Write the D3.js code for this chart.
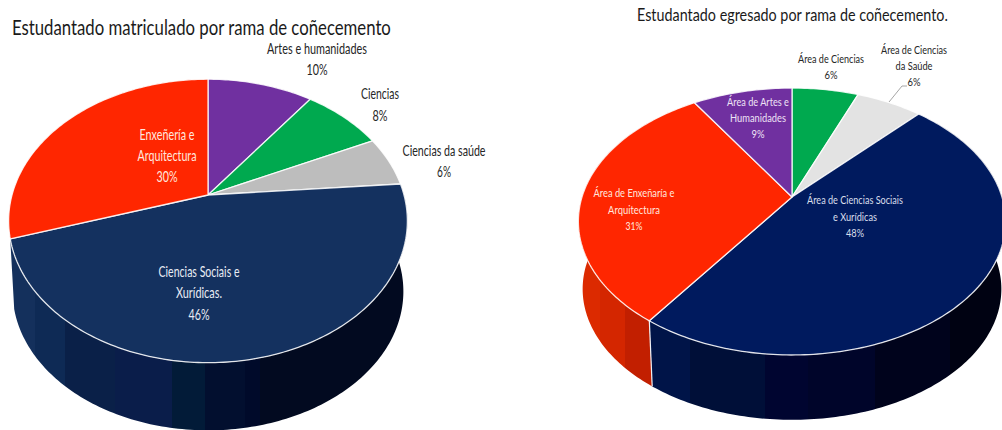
<!DOCTYPE html>
<html><head><meta charset="utf-8">
<script src="https://cdn.jsdelivr.net/npm/d3@7/dist/d3.min.js"></script>
<style>html,body{margin:0;padding:0;background:#fff;overflow:hidden}svg{display:block}text{font-family:Lato,"Open Sans",sans-serif}</style>
</head><body>
<script>
// ---------- data ----------
const leftTitle = "Estudantado matriculado por rama de coñecemento";
const leftCategories = [["Artes e humanidades"],["Ciencias"],["Ciencias da saúde"],["Ciencias Sociais e","Xurídicas."],["Enxeñería e","Arquitectura"]];
const leftValues = [10.2,7.8,5.7,46.4,29.9];
const rightTitle = "Estudantado egresado por rama de coñecemento.";
const rightCategories = [["Área de Ciencias"],["Área de Ciencias","da Saúde"],["Área de Ciencias Sociais","e Xurídicas"],["Área de Enxeñaría e","Arquitectura"],["Área de Artes e","Humanidades"]];
const rightValues = [6,6,47.8,31.2,9];

// ---------- styling and layout ----------
const leftColors = ["#7030a0","#00a94f","#bdbdbd","#14315f","#ff2600"];
const rightColors = ["#00a94f","#e3e3e3","#001a5e","#ff2600","#7030a0"];
const leftInk = ["#262626","#262626","#262626","#e8ecf4","#ffe6df"];
const rightInk = ["#262626","#262626","#d9deeb","#ffe6df","#eee3f5"];
// per label: centre x, first line centre y, line gap, text widths per line (last = percent)
const leftPlace = [[317,48,21,[100,21]],[380,93,22,[38,15]],[444,150,21,[83,14]],[199,271,21.5,[81,46,21]],[167,134,21,[55,59,21]]];
const rightPlace = [[831,59,16,[66,13]],[914,50,16,[66,37,13]],[855,200,16.5,[96,44,18]],[634,193,16.5,[81,52,17]],[758,102,16,[62,56,13]]];
const leftGeom = {cx:208,cy:195,R:196,a:137,k:0.183,s:0.98,d:71};
const rightGeom = {cx:792,cy:197,R:210,a:129,k:0.1835,s:0.98,d:68};
// banded wall shading: band edges in x, one colour per band
const leftWallX = [0,35,65,115,172,205,245,260,420];
const leftWallC = ["#14305c","#0e2a55","#0a2048","#0a1d4a","#021b38","#020f2f","#000a2a","#020a20"];
const rightWallX = [640,690,765,808,875,950,1010];
const rightWallC = ["#001448","#000f38","#000530","#00052a","#00031c","#000212"];
const redWallX = [570,600,625,660];
const redWallC = ["#dc2a00","#d42600","#c21f00"];

const svg = d3.select("body").append("svg").attr("width",1002).attr("height",430);
const defs = svg.append("defs");
const lineGen = d3.line();

function bandGradient(id, edges, colors){
  const x = d3.scaleLinear().domain([edges[0],edges[edges.length-1]]).range([0,1]);
  const grad = defs.append("linearGradient").attr("id",id)
    .attr("gradientUnits","userSpaceOnUse")
    .attr("x1",edges[0]).attr("x2",edges[edges.length-1]).attr("y1",0).attr("y2",0);
  colors.forEach((c,i)=>{
    grad.append("stop").attr("offset",x(edges[i])).attr("stop-color",c);
    grad.append("stop").attr("offset",x(edges[i+1])).attr("stop-color",c);
  });
  return "url(#"+id+")";
}

function drawPie(values, colors, g, wallFor){
  const arcs = d3.pie().sort(null)(values);
  const top = t => {
    const u = Math.sin(t), v = Math.cos(t), w = 1 + g.k*v;
    return [g.R*u/w, -g.a*v/w];
  };
  const upper = t => { const p = top(t); return [g.cx+p[0], g.cy+p[1]]; };
  const lower = t => { const p = top(t); return [g.cx+p[0]*g.s, g.cy+p[1]*g.s+g.d]; };
  const deg = Math.PI/180;
  const wall = svg.append("g");
  arcs.forEach((d,i)=>{
    const fill = wallFor(i);
    if(!fill) return;
    const from = Math.max(d.startAngle, 50*deg), to = Math.min(d.endAngle, 310*deg);
    const pts = d3.range(from,to,deg).concat([to]);
    wall.append("path")
      .attr("d", lineGen(pts.map(upper).concat(pts.slice().reverse().map(lower)))+"Z")
      .attr("fill",fill);
  });
  arcs.forEach((d,i)=>{
    if(i+1<arcs.length && wallFor(i) && wallFor(i+1)){
      wall.append("path").attr("d",lineGen([upper(d.endAngle),lower(d.endAngle)]))
        .attr("stroke","#eef0f5").attr("stroke-width",1.2).attr("fill","none");
    }
  });
  svg.append("g").selectAll("path").data(arcs).join("path")
    .attr("d", d=>{
      const pts = d3.range(d.startAngle,d.endAngle,deg).concat([d.endAngle]).map(upper);
      return lineGen([[g.cx,g.cy]].concat(pts))+"Z";
    })
    .attr("fill",(d,i)=>colors[i])
    .attr("stroke","#ffffff").attr("stroke-opacity",0.85).attr("stroke-width",1.3).attr("stroke-linejoin","round");
}

// real text condensed horizontally to the measured width
function fitText(s, x, y, width, size, ink, anchor, dy){
  const t = svg.append("text").text(s)
    .attr("text-anchor",anchor).attr("dy",dy)
    .attr("font-size",size).attr("fill",ink);
  const natural = t.node().getComputedTextLength();
  t.attr("transform","translate("+x+","+y+") scale("+(width/natural)+",1)");
  return t;
}

function drawLabels(cats, values, place, ink, size){
  cats.forEach((lines,i)=>{
    const [x,y,gap,widths] = place[i];
    lines.concat([Math.round(values[i])+"%"]).forEach((s,j)=>{
      fitText(s,x,y+j*gap,widths[j],size,ink[i],"middle","0.36em");
    });
  });
}

const lw = bandGradient("leftWall",leftWallX,leftWallC);
const rw = bandGradient("rightWall",rightWallX,rightWallC);
const rd = bandGradient("redWall",redWallX,redWallC);

drawPie(leftValues,leftColors,leftGeom,i=>i===3?lw:null);
drawPie(rightValues,rightColors,rightGeom,i=>i===2?rw:(i===3?rd:null));

drawLabels(leftCategories,leftValues,leftPlace,leftInk,15.5);
drawLabels(rightCategories,rightValues,rightPlace,rightInk,12);

svg.append("path").attr("d",lineGen([[889,102],[902,86],[907,86]]))
  .attr("fill","none").attr("stroke","#a6a6a6").attr("stroke-width",1);

fitText(leftTitle,12,34.5,379,21,"#1a1a1a","start","0");
fitText(rightTitle,637,21,311,17,"#1a1a1a","start","0");
</script>
</body></html>
